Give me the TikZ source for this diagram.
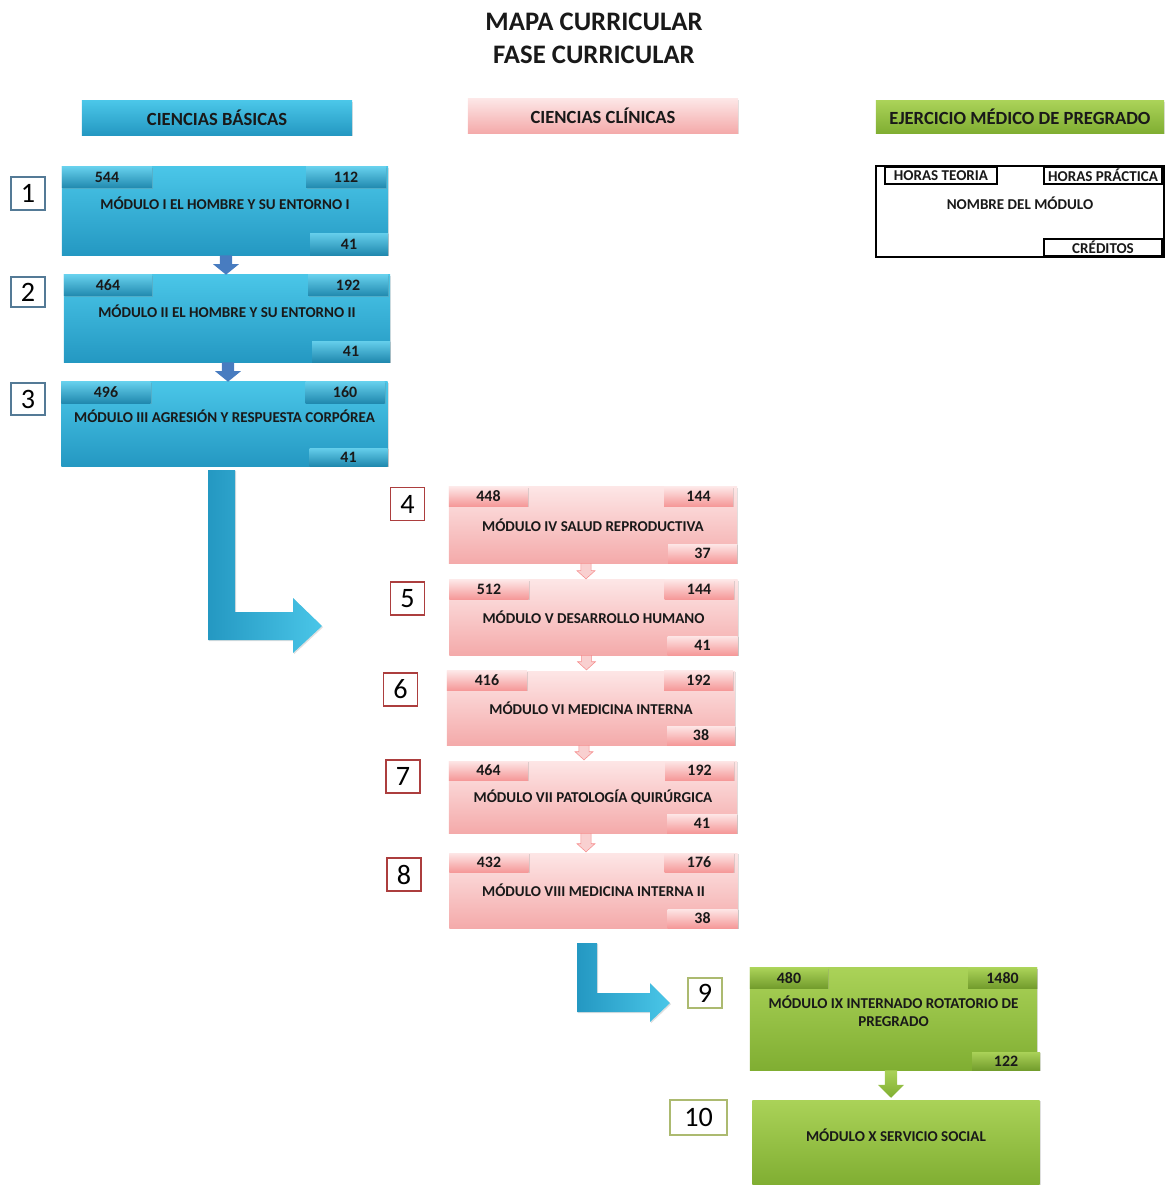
\documentclass[tikz,border=0pt]{standalone}
\usepackage{fontspec}
\setmainfont{Carlito}
\usetikzlibrary{calc,shadows}

\definecolor{bluelt}{RGB}{74,198,232}
\definecolor{bluedk}{RGB}{36,152,194}
\definecolor{bluearr}{RGB}{72,124,192}
\definecolor{pinklt}{RGB}{253,230,230}
\definecolor{pinkdk}{RGB}{244,170,170}
\definecolor{greenlt}{RGB}{170,210,88}
\definecolor{greendk}{RGB}{128,174,50}
\definecolor{nbblue}{RGB}{84,122,150}
\definecolor{nbred}{RGB}{172,62,62}
\definecolor{nbgreen}{RGB}{172,186,112}
\definecolor{ink}{RGB}{25,25,25}

\begin{document}
\begin{tikzpicture}[x=0.025cm, y=-0.025cm,
  shad/.style={drop shadow={opacity=0.25, shadow xshift=0.8pt, shadow yshift=-0.8pt}},
  txt/.style={text=ink, font=\bfseries\fontsize{10.7}{12.8}\selectfont, align=center},
  hdr/.style={txt, shad, font=\bfseries\fontsize{13.2}{15}\selectfont, minimum width=6.75cm, minimum height=0.85cm, inner sep=0pt},
  bmod/.style={txt, shad, top color=bluelt, bottom color=bluedk, minimum width=8.15cm, inner sep=2pt, text depth=11pt},
  pmod/.style={txt, shad, top color=pinklt, bottom color=pinkdk, minimum width=7.2cm, inner sep=2pt},
  gmod/.style={txt, shad, top color=greenlt, bottom color=greendk, minimum width=7.175cm, inner sep=2pt, text depth=11pt},
  tab/.style={txt, shad, font=\bfseries\fontsize{11.3}{13}\selectfont, inner sep=0pt},
  btab/.style={tab, top color=bluelt!85!white, bottom color=bluedk!90!black, minimum width=2.25cm, minimum height=0.525cm},
  ptab/.style={tab, top color=pinklt, bottom color=pinkdk!90!red, minimum width=1.975cm, minimum height=0.475cm},
  gtab/.style={tab, top color=greenlt, bottom color=greendk!90!black, minimum width=1.95cm, minimum height=0.5cm},
  numbox/.style={draw, fill=white, line width=0.8pt, inner sep=0pt, minimum width=0.85cm, minimum height=0.825cm, font=\fontsize{20}{20}\selectfont},
  lgdtab/.style={txt, draw=black, line width=1pt, fill=white, minimum height=0.425cm, inner sep=0pt}]
\useasboundingbox (0,0) rectangle (1169,1185);

% Title
\node[txt, font=\bfseries\fontsize{19}{23.5}\selectfont] (title) at (594,38) {MAPA CURRICULAR\\FASE CURRICULAR};

% Column headers
\node[hdr, top color=bluelt, bottom color=bluedk] (hb) at (217,118) {CIENCIAS BÁSICAS};
\node[hdr, top color=pinklt, bottom color=pinkdk] (hc) at (603,116) {CIENCIAS CLÍNICAS};
\node[hdr, top color=greenlt, bottom color=greendk, minimum width=7.2cm, minimum height=0.8cm] (hp) at (1020,117) {EJERCICIO MÉDICO DE PREGRADO};

% Legend
\node[txt, draw=black, line width=1pt, minimum width=7.2cm, minimum height=2.275cm, text depth=12pt] (lgd) at (1020,211.5) {NOMBRE DEL MÓDULO};
\node[lgdtab, anchor=north west, minimum width=2.8cm] (lgdt) at ($(lgd.north west)+(9,1)$) {HORAS TEORIA};
\node[lgdtab, anchor=north east, minimum width=2.95cm] (lgdp) at ($(lgd.north east)+(-2,1)$) {HORAS PRÁCTICA};
\node[lgdtab, anchor=south east, minimum width=2.95cm] (lgdc) at ($(lgd.south east)+(-2,-1)$) {CRÉDITOS};

% Ciencias basicas
\node[bmod, minimum height=2.2cm] (m1) at (225,211) {MÓDULO I EL HOMBRE Y SU ENTORNO I};
\node[btab, anchor=north west] (m1a) at (m1.north west) {544};
\node[btab, anchor=north east, minimum width=2cm] (m1b) at ($(m1.north east)+(-2,0)$) {112};
\node[btab, anchor=south east, minimum width=1.95cm, minimum height=0.55cm] (m1c) at (m1.south east) {41};
\node[numbox, draw=nbblue] (n1) at (28,193.5) {1};

\node[bmod, minimum height=2.175cm] (m2) at (227,318.5) {MÓDULO II EL HOMBRE Y SU ENTORNO II};
\node[btab, anchor=north west, minimum width=2.2cm] (m2a) at (m2.north west) {464};
\node[btab, anchor=north east, minimum width=2cm] (m2b) at ($(m2.north east)+(-2,0)$) {192};
\node[btab, anchor=south east, minimum width=1.95cm] (m2c) at (m2.south east) {41};
\node[numbox, draw=nbblue, minimum height=0.75cm] (n2) at (28,292) {2};

\node[bmod, minimum height=2.1cm] (m3) at (224.5,424) {MÓDULO III AGRESIÓN Y RESPUESTA CORPÓREA};
\node[btab, anchor=north west, minimum width=2.225cm] (m3a) at (m3.north west) {496};
\node[btab, anchor=north east, minimum width=1.975cm] (m3b) at ($(m3.north east)+(-3,0)$) {160};
\node[btab, anchor=south east, minimum width=1.95cm, minimum height=0.45cm] (m3c) at (m3.south east) {41};
\node[numbox, draw=nbblue, minimum height=0.8cm] (n3) at (28,399) {3};

% Ciencias clinicas
\node[pmod, minimum height=1.9cm] (m4) at (593,525) {MÓDULO IV SALUD REPRODUCTIVA};
\node[ptab, anchor=north west] (m4a) at (m4.north west) {448};
\node[ptab, anchor=north east, minimum width=1.725cm] (m4b) at ($(m4.north east)+(-4,0)$) {144};
\node[ptab, anchor=south east, minimum width=1.725cm] (m4c) at (m4.south east) {37};
\node[numbox, draw=nbred] (n4) at (407.5,504) {4};

\node[pmod, minimum height=1.875cm] (m5) at (593.5,617.5) {MÓDULO V DESARROLLO HUMANO};
\node[ptab, anchor=north west] (m5a) at (m5.north west) {512};
\node[ptab, anchor=north east, minimum width=1.725cm] (m5b) at ($(m5.north east)+(-4,0)$) {144};
\node[ptab, anchor=south east, minimum width=1.75cm] (m5c) at (m5.south east) {41};
\node[numbox, draw=nbred] (n5) at (407.5,598.5) {5};

\node[pmod, minimum height=1.85cm] (m6) at (591,708) {MÓDULO VI MEDICINA INTERNA};
\node[ptab, anchor=north west, minimum width=2cm] (m6a) at (m6.north west) {416};
\node[ptab, anchor=north east, minimum width=1.725cm] (m6b) at ($(m6.north east)+(-2,0)$) {192};
\node[ptab, anchor=south east, minimum width=1.7cm] (m6c) at (m6.south east) {38};
\node[numbox, draw=nbred] (n6) at (400.5,689.5) {6};

\node[pmod, minimum height=1.8cm] (m7) at (593,797) {MÓDULO VII PATOLOGÍA QUIRÚRGICA};
\node[ptab, anchor=north west] (m7a) at (m7.north west) {464};
\node[ptab, anchor=north east, minimum width=1.725cm] (m7b) at ($(m7.north east)+(-3,0)$) {192};
\node[ptab, anchor=south east, minimum width=1.75cm] (m7c) at (m7.south east) {41};
\node[numbox, draw=nbred] (n7) at (403,776.5) {7};

\node[pmod, minimum height=1.875cm] (m8) at (593.5,890.5) {MÓDULO VIII MEDICINA INTERNA II};
\node[ptab, anchor=north west] (m8a) at (m8.north west) {432};
\node[ptab, anchor=north east, minimum width=1.725cm] (m8b) at ($(m8.north east)+(-4,0)$) {176};
\node[ptab, anchor=south east, minimum width=1.75cm] (m8c) at (m8.south east) {38};
\node[numbox, draw=nbred] (n8) at (404,874.5) {8};

% Ejercicio medico de pregrado
\node[gmod, minimum height=2.55cm] (m9) at (893.5,1019) {MÓDULO IX INTERNADO ROTATORIO DE\\PREGRADO};
\node[gtab, anchor=north west] (m9a) at (m9.north west) {480};
\node[gtab, anchor=north east, minimum width=1.725cm] (m9b) at (m9.north east) {1480};
\node[gtab, anchor=south east, minimum width=1.7cm, minimum height=0.45cm] (m9c) at ($(m9.south east)+(3,0)$) {122};
\node[numbox, draw=nbgreen, minimum height=0.75cm] (n9) at (705,993) {9};

\node[gmod, minimum height=2.125cm] (m10) at (896,1142.5) {MÓDULO X SERVICIO SOCIAL};
\node[numbox, draw=nbgreen, minimum width=1.425cm, minimum height=0.875cm] (n10) at (698.5,1117.5) {10};

% Arrows between modules
\foreach \a/\b in {m1/m2, m2/m3}
  \path[fill=bluearr] let \p1=($(\a.south)+(1,0)$), \p2=(\b.north) in
    (\x1-4.3pt,\y1) -- (\x1+4.3pt,\y1) -- (\x1+4.3pt,\y2+7.5pt) -- (\x1+9.2pt,\y2+7.5pt)
    -- (\x1,\y2) -- (\x1-9.2pt,\y2+7.5pt) -- (\x1-4.3pt,\y2+7.5pt) -- cycle;
\foreach \a/\b in {m4/m5, m5/m6, m6/m7, m7/m8}
  \path[fill=pinkdk!55!white, draw=pinkdk!85!red, line width=0.4pt] let \p1=($(\a.south)+(-7,0)$), \p2=(\b.north) in
    (\x1-3.6pt,\y1) -- (\x1+3.6pt,\y1) -- (\x1+3.6pt,\y2+6.4pt) -- (\x1+6.4pt,\y2+6.4pt)
    -- (\x1,\y2+0.6pt) -- (\x1-6.4pt,\y2+6.4pt) -- (\x1-3.6pt,\y2+6.4pt) -- cycle;
\path[top color=greenlt, bottom color=greendk] let \p1=($(m9.south)+(-2.5,0)$), \p2=(m10.north) in
    (\x1-4.3pt,\y1) -- (\x1+4.3pt,\y1) -- (\x1+4.3pt,\y2+10.5pt) -- (\x1+9.2pt,\y2+10.5pt)
    -- (\x1,\y2+1.4pt) -- (\x1-9.2pt,\y2+10.5pt) -- (\x1-4.3pt,\y2+10.5pt) -- cycle;

% Bent arrows to the next phase
\coordinate (la) at (208,470);
\coordinate (lb) at (322,626);
\path[shad, left color=bluedk, right color=bluelt] (la) -- (235,470) -- (235,612) -- (293,612)
  -- (293,598) -- (lb) -- (293,653) -- (293,640) -- (208,640) -- cycle;
\coordinate (ka) at (577,943);
\coordinate (kb) at (670,1003);
\path[shad, left color=bluedk, right color=bluelt] (ka) -- (597,943) -- (597,993) -- (650,993)
  -- (650,983) -- (kb) -- (650,1022) -- (650,1012) -- (577,1012) -- cycle;
\end{tikzpicture}
\end{document}
